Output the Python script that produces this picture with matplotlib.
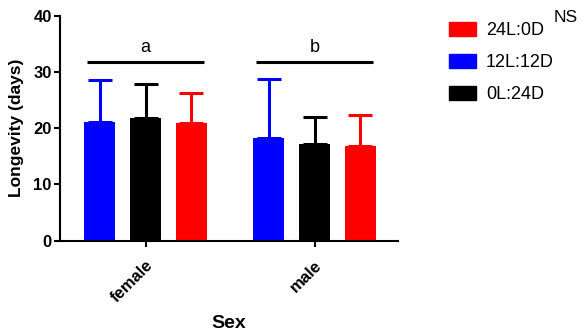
import matplotlib.pyplot as plt
import matplotlib.transforms as mtransforms
import numpy as np
from matplotlib.patches import Patch

plt.rcParams['font.family'] = ['Liberation Sans', 'DejaVu Sans']

# data
groups = ["female", "male"]
labels = ["12L:12D", "0L:24D", "24L:0D"]
colors = ["#0000ff", "#000000", "#ff0000"]
means = [[21.0, 18.3],   # 12L:12D
         [21.8, 17.2],   # 0L:24D
         [20.85, 16.9]]  # 24L:0D
sds = [[7.5, 10.5],
       [6.1, 4.8],
       [5.35, 5.4]]
sig_letters = ["a", "b"]
legend_order = [2, 0, 1]

fig = plt.figure(figsize=(5.82, 3.35), dpi=100)
ax = fig.add_axes([60/582, 1-240.7/335, 338/582, 225.2/335])

x = np.arange(len(groups))
offs = [-0.272, 0.0, 0.272]
w = 0.183
for i in range(3):
    xs = x + offs[i]
    ax.bar(xs, means[i], width=w, color=colors[i], edgecolor='none', zorder=2)
    ax.errorbar(xs, means[i], yerr=[np.zeros(2), sds[i]], fmt='none',
                ecolor=colors[i], elinewidth=2.2, capsize=8.5, capthick=2.2, zorder=1)

# significance bars
for j in range(len(groups)):
    ax.plot([x[j]-0.346, x[j]+0.346], [31.7, 31.7], color='black', lw=2.2,
            solid_capstyle='butt')
    ax.text(x[j], 34.4, sig_letters[j], ha='center', va='center', fontsize=13)

ax.set_xlim(-0.506, 1.494)
ax.set_ylim(0, 40)
ax.set_yticks([0, 10, 20, 30, 40])
ax.set_xticks(x)
ax.set_xticklabels(groups, rotation=45, ha='right', rotation_mode='anchor',
                   fontsize=12, fontweight='bold')
shift = mtransforms.ScaledTranslation(-4/100, 0, fig.dpi_scale_trans)
for t in ax.get_xticklabels():
    t.set_transform(t.get_transform() + shift)
for t in ax.get_yticklabels():
    t.set_fontweight('bold')
    t.set_fontsize(12)
ax.tick_params(axis='both', direction='out', length=4, width=1.5)
ax.tick_params(axis='y', pad=2)
ax.tick_params(axis='x', pad=8)
for s in ['top', 'right']:
    ax.spines[s].set_visible(False)
for s in ['left', 'bottom']:
    ax.spines[s].set_linewidth(1.5)

ax.set_ylabel("Longevity (days)", fontsize=12.5, fontweight='bold', labelpad=7)
ax.set_xlabel("Sex", fontsize=14, fontweight='bold', labelpad=7)

handles = [Patch(color=colors[k], label=labels[k]) for k in legend_order]
fig.legend(handles=handles, loc='center left', bbox_to_anchor=(449/582, 1-62.5/335),
           frameon=False, fontsize=13, borderpad=0, borderaxespad=0,
           handlelength=1.5, handleheight=0.85, handletextpad=0.55, labelspacing=0.8)
fig.text(566/582, 1-18/335, "NS", ha='center', va='center', fontsize=12.5)

fig.savefig("out.png", dpi=100)
